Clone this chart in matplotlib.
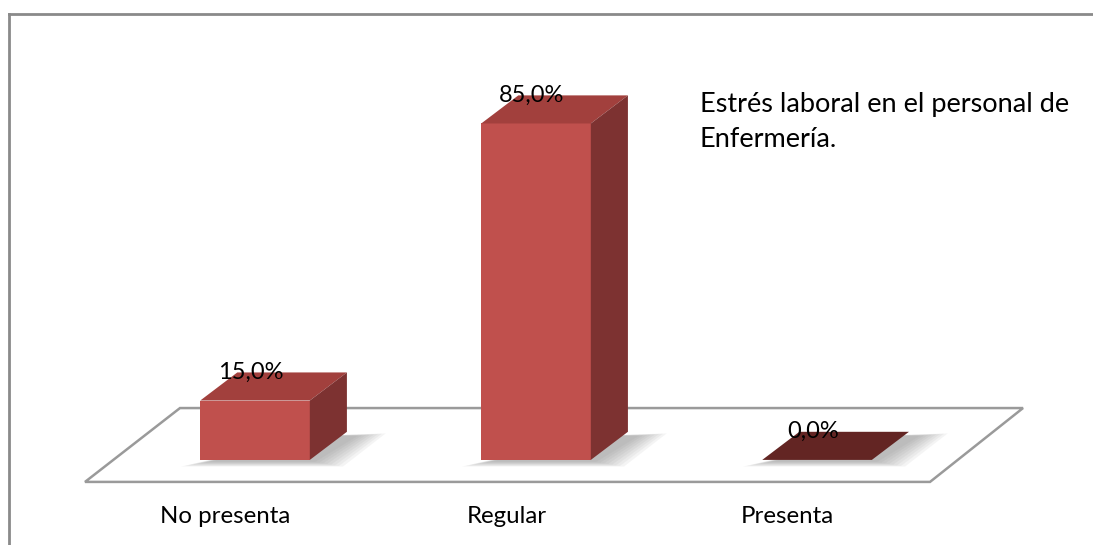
import matplotlib
matplotlib.use("Agg")
import matplotlib.pyplot as plt
from matplotlib.patches import Polygon, Rectangle

# data
categories = ["No presenta", "Regular", "Presenta"]
values = [15.0, 85.0, 0.0]
value_labels = ["15,0%", "85,0%", "0,0%"]
title = "Estrés laboral en el personal de\nEnfermería."

# style
front_c = "#C0504D"
top_c = "#A2403D"
side_c = "#7D3231"
flat_c = "#632523"
floor_c = "#9A9A9A"
w = 0.39          # bar width (category units)
dx, dy = 0.132, 7.1   # fake depth offset
font = ["Lato", "DejaVu Sans"]

fig = plt.figure(figsize=(10.93, 5.45), dpi=100)
ax = fig.add_axes([0, 0, 1, 1])
ax.set_xlim(-0.9075, 2.982)
ax.set_ylim(-21.5, 116.2)
ax.axis("off")

# floor
floor = Polygon([(-0.605, -5.56), (2.402, -5.56), (2.733, 13.1), (-0.267, 13.1)],
                closed=True, facecolor="white", edgecolor=floor_c, lw=1.8, zorder=1)
ax.add_patch(floor)

for i, v in enumerate(values):
    x0, x1 = i - w / 2, i + w / 2
    # soft shadow
    for k in range(8):
        g = 0.014 * k
        sh = Polygon([(x0 + 0.03 - g, -0.5 - g * 12), (x1 + 0.02 + g, -0.5 - g * 12),
                      (x1 + dx + 0.04 + g, dy - 1 + g * 6), (x1 + 0.02, dy - 1)],
                     closed=True, facecolor="#7A7A7A", alpha=0.08, lw=0, zorder=2)
        ax.add_patch(sh)
    if v > 0:
        ax.add_patch(Rectangle((x0, 0), w, v, facecolor=front_c, edgecolor="none", zorder=4))
        ax.add_patch(Polygon([(x0, v), (x1, v), (x1 + dx, v + dy), (x0 + dx, v + dy)],
                             closed=True, facecolor=top_c, edgecolor="none", zorder=4))
        ax.add_patch(Polygon([(x1, 0), (x1 + dx, dy), (x1 + dx, v + dy), (x1, v)],
                             closed=True, facecolor=side_c, edgecolor="none", zorder=4))
    else:
        ax.add_patch(Polygon([(x0, 0), (x1, 0), (x1 + dx, dy), (x0 + dx, dy)],
                             closed=True, facecolor=flat_c, edgecolor="none", zorder=4))
    ax.text(i - 0.015, v + dy, value_labels[i], ha="center", va="center",
            fontsize=17, family=font, color="black", zorder=6)
    ax.text(i - 0.105, -14.4, categories[i], ha="center", va="center",
            fontsize=17.3, family=font, color="black")

ax.text(0.6404, 0.776, title, transform=ax.transAxes, ha="left", va="center",
        fontsize=19.5, family=font, linespacing=1.5)

# chart frame (top and left edges visible)
ax.plot([0.0078, 1.0], [1 - 13.5 / 545, 1 - 13.5 / 545], transform=ax.transAxes,
        color="#8A8A8A", lw=2, clip_on=False)
ax.plot([0.0078, 0.0078], [0.0, 1 - 13.5 / 545], transform=ax.transAxes,
        color="#8A8A8A", lw=2, clip_on=False)

fig.savefig("out.png", dpi=100)
